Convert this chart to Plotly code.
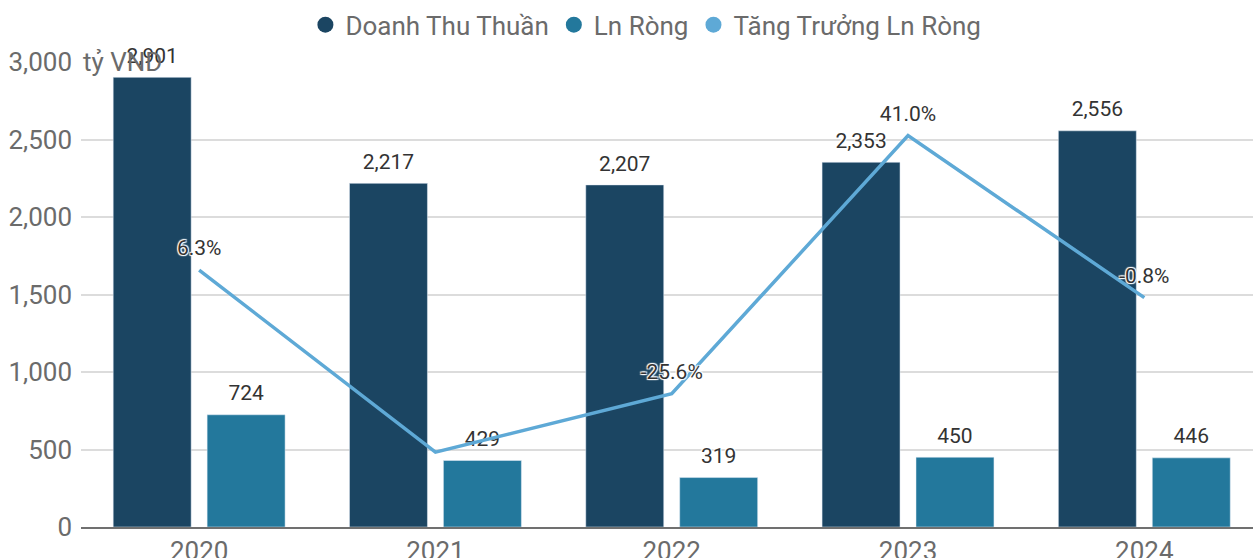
import plotly.graph_objects as go

years = ["2020", "2021", "2022", "2023", "2024"]
revenue = [2901, 2217, 2207, 2353, 2556]
net_income = [724, 429, 319, 450, 446]
growth = [6.3, -40.7, -25.6, 41.0, -0.8]
growth_labels = ["6.3%", "", "-25.6%", "41.0%", "-0.8%"]
y_tickvals = [0, 500, 1000, 1500, 2000, 2500, 3000]
y_ticktext = ["0", "500", "1,000", "1,500", "2,000", "2,500", "3,000"]
unit_label = "tỷ VND"
names = ["Doanh Thu Thuần", "Ln Ròng", "Tăng Trưởng Ln Ròng"]

C_REV = "#1b4562"
C_NI = "#23789c"
C_GR = "#5ea9d6"
FONT = "Roboto"
SHADOW = "1px 1px 1px #fff, -1px -1px 1px #fff, 1px -1px 1px #fff, -1px 1px 1px #fff"
BARGAP = 0.205
X_RANGE = [-0.5, 4.46]
LABEL_FONT = dict(size=21, color="#333333", family=FONT, shadow=SHADOW)

fig = go.Figure()
for i, (nm, vals, col) in enumerate(zip(names[:2], [revenue, net_income], [C_REV, C_NI])):
    fig.add_trace(go.Bar(
        x=years, y=vals, name=nm, marker_color=col, showlegend=False,
        offsetgroup=str(i), hoverinfo="x+y",
    ))
for i, vals in enumerate([revenue, net_income]):
    fig.add_trace(go.Scatter(
        x=years, y=vals, mode="markers+text", offsetgroup=str(i), showlegend=False,
        marker=dict(size=13, color="rgba(0,0,0,0)"), hoverinfo="skip",
        text=[f"{v:,}" for v in vals], textposition="top center", cliponaxis=False,
        textfont=LABEL_FONT,
    ))
fig.add_trace(go.Scatter(
    x=years, y=growth, name=names[2], xaxis="x2", yaxis="y2", mode="lines+markers+text",
    line=dict(color=C_GR, width=3.5), showlegend=False,
    marker=dict(size=14, color="rgba(0,0,0,0)"),
    text=growth_labels, textposition="top center", cliponaxis=False,
    textfont=LABEL_FONT,
))
for nm, col in zip(names, [C_REV, C_NI, C_GR]):
    fig.add_trace(go.Scatter(
        x=[None], y=[None], name=nm, mode="markers", xaxis="x3", yaxis="y3",
        marker=dict(symbol="circle", size=16, color=col),
    ))

fig.add_annotation(
    text=unit_label, xref="paper", x=0, xanchor="left", yref="y", y=3000,
    yanchor="middle", showarrow=False, font=dict(size=26, color="#6b6b6b", family=FONT),
)

fig.update_layout(
    width=1253, height=558,
    margin=dict(l=81, r=0, t=62, b=31, autoexpand=False),
    paper_bgcolor="white", plot_bgcolor="white",
    font=dict(family=FONT, color="#6b6b6b"),
    barmode="group", bargap=BARGAP, bargroupgap=0.17,
    scattermode="group", scattergap=BARGAP,
    legend=dict(orientation="h", x=0.482, xanchor="center", y=1.08, yanchor="middle",
                font=dict(size=26, color="#6b6b6b", family=FONT), itemclick=False),
    xaxis=dict(range=X_RANGE, showline=True, linecolor="#707070", linewidth=2,
               showgrid=False, ticks="", automargin=False,
               tickfont=dict(size=26, color="#6b6b6b")),
    xaxis2=dict(range=X_RANGE, overlaying="x", visible=False),
    xaxis3=dict(range=X_RANGE, overlaying="x", visible=False),
    yaxis=dict(range=[0, 3000], tickvals=y_tickvals, ticktext=y_ticktext,
               showgrid=True, gridcolor="#dcdcdc", gridwidth=1.5, zeroline=False,
               ticks="", automargin=False, ticklabelstandoff=8,
               tickfont=dict(size=26, color="#6b6b6b")),
    yaxis2=dict(range=[-60, 60], overlaying="y", visible=False),
    yaxis3=dict(range=[0, 1], overlaying="y", visible=False),
)

fig.write_html("out.html", config={"displayModeBar": False},
               post_script="document.body.style.margin='0';")
